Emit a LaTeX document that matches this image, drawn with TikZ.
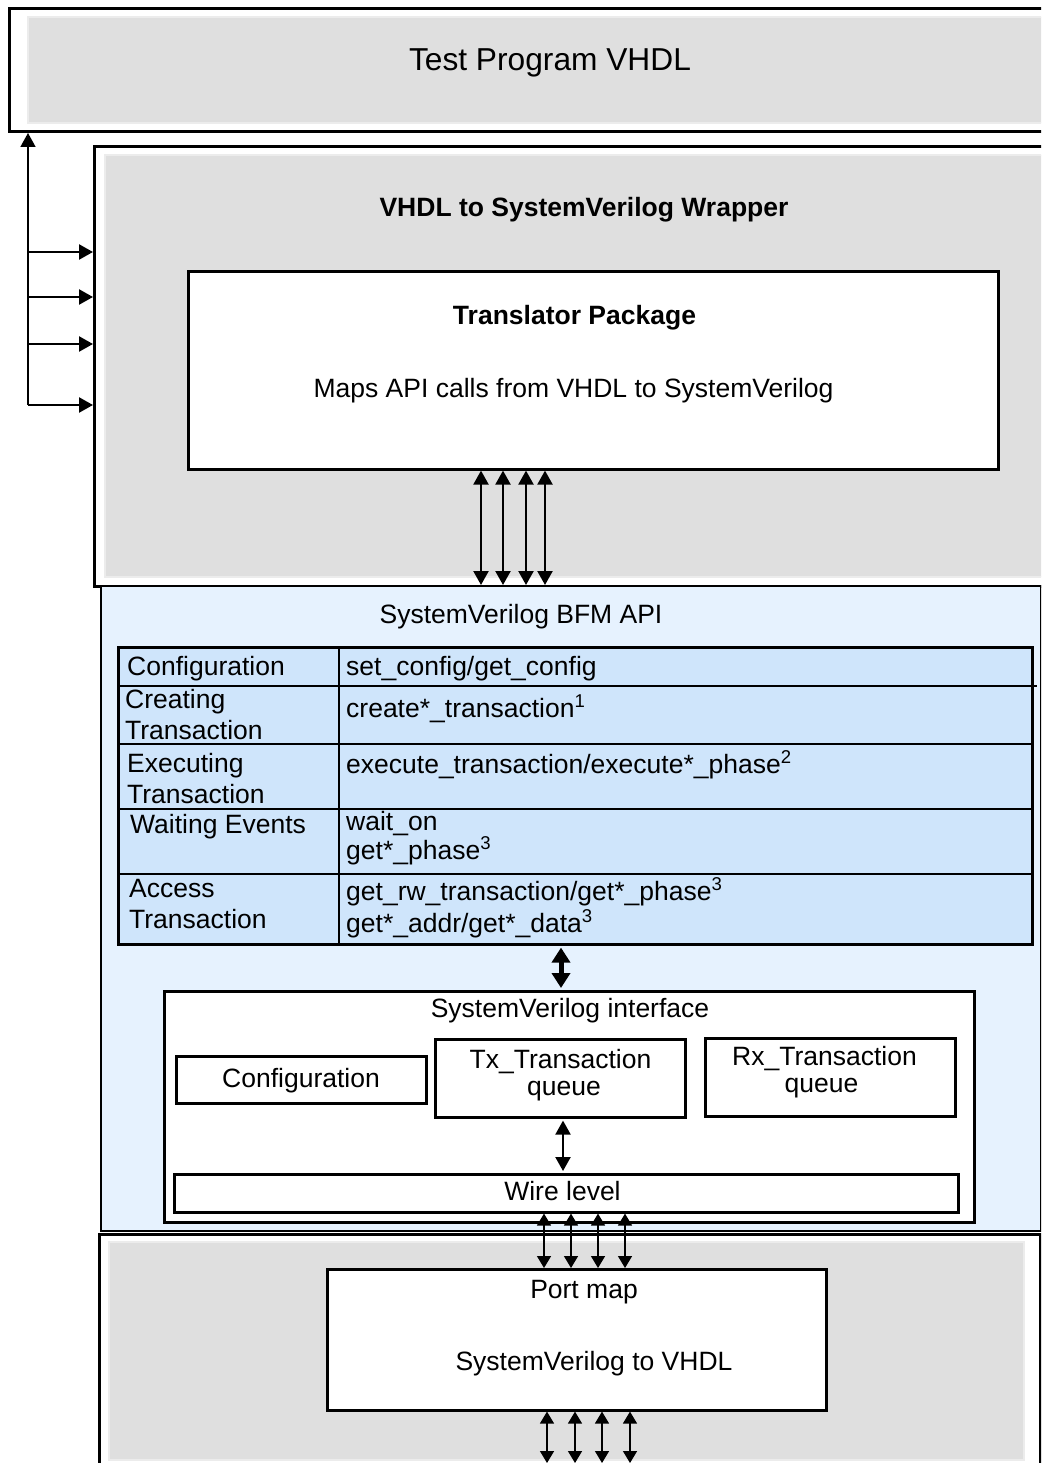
\documentclass[tikz,border=0pt]{standalone}
\usepackage{fontspec}
\setmainfont{Liberation Sans}
\usetikzlibrary{arrows.meta,positioning}
\definecolor{panelgray}{HTML}{DFDFDF}
\definecolor{panelrim}{HTML}{ECECEC}
\definecolor{apiblue}{HTML}{E6F2FE}
\definecolor{rowblue}{HTML}{CFE5FB}
\begin{document}
\begin{tikzpicture}[x=1pt,y=-1pt,>={Triangle[length=14pt,width=15pt]},line join=miter,
        frame/.style={draw,line width=3pt,inner sep=0pt,anchor=north west},
        box/.style={draw,fill=white,line width=2.6pt,inner sep=0pt,anchor=north west},
        panel/.style={fill=panelgray,draw=panelrim,line width=2pt},
        txt/.style={font=\fontsize{26.5}{31}\selectfont,inner sep=0pt,anchor=base},
        boldtxt/.style={txt,font=\fontsize{26.5}{31}\selectfont\bfseries},
        cell/.style={txt,anchor=base west},
        link/.style={<->,line width=2.2pt},
        thinlink/.style={<->,line width=1.5pt,>={Triangle[length=12pt,width=14pt]}}]
    \useasboundingbox (0,0) rectangle (1041,1463);
    \clip (0,0) rectangle (1041,1463);
    % test program
    \node[frame,minimum width=1060,minimum height=123] (prog) at (8,7) {};
    \path[panel] (28,17) rectangle (1060,123);
    \node[txt,font=\fontsize{31.7}{36}\selectfont] (progtxt) at (550,71) {Test Program VHDL};
    % wrapper + translator
    \node[frame,minimum width=970,minimum height=440] (wrap) at (93,145) {};
    \path[panel] (105,155) rectangle (1060,577);
    \node[boldtxt] (wraptxt) at (584,217) {VHDL to SystemVerilog Wrapper};
    \node[box,minimum width=810,minimum height=198] (trans) at (187,270) {};
    \node[boldtxt] (transtxt) at (574.5,324) {Translator Package};
    \node[txt] (mapstxt) at (573.5,397) {Maps API calls from VHDL to SystemVerilog};
    % BFM API
    \node[box,fill=apiblue,line width=2.2pt,minimum width=940,minimum height=645] (api) at (100,585) {};
    \node[txt] (apitxt) at (521,623) {SystemVerilog BFM API};
    \node[box,fill=rowblue,minimum width=914,minimum height=297] (tbl) at (117,646) {};
    \draw[line width=2.6pt] (117,686) -- (1037,686);
    \foreach \y in {744,809,874} \draw[line width=2.6pt] (117,\y) -- (1031,\y);
    \draw[line width=2.6pt] (339,646) -- (339,943);
    \node[cell] (c1) at (127,675) {Configuration};
    \node[cell] (c2a) at (125,708) {Creating};
    \node[cell] (c2b) at (125,739) {Transaction};
    \node[cell] (c3a) at (127,772) {Executing};
    \node[cell] (c3b) at (127,803) {Transaction};
    \node[cell] (c4) at (130,833) {Waiting Events};
    \node[cell] (c5a) at (129,897) {Access};
    \node[cell] (c5b) at (129,928) {Transaction};
    \node[cell] (f1) at (346,675) {set\_config/get\_config};
    \node[cell] (f2) at (346,717) {create*\_transaction\textsuperscript{1}};
    \node[cell] (f3) at (346,773) {execute\_transaction/execute*\_phase\textsuperscript{2}};
    \node[cell] (f4a) at (346,830) {wait\_on};
    \node[cell] (f4b) at (346,859) {get*\_phase\textsuperscript{3}};
    \node[cell] (f5a) at (346,900) {get\_rw\_transaction/get*\_phase\textsuperscript{3}};
    \node[cell] (f5b) at (346,932) {get*\_addr/get*\_data\textsuperscript{3}};
    % interface
    \node[box,minimum width=810,minimum height=231] (iface) at (163,990) {};
    \node[txt] (ifacetxt) at (570,1017) {SystemVerilog interface};
    \node[box,minimum width=250,minimum height=47] (cfg) at (175,1055) {};
    \node[txt] (cfgtxt) at (301,1087) {Configuration};
    \node[box,minimum width=250,minimum height=78] (tx) at (434,1038) {};
    \node[txt] (txtop) at (560.5,1068) {Tx\_Transaction};
    \node[txt] (txbot) at (564,1095) {queue};
    \node[box,minimum width=250,minimum height=78] (rx) at (704,1037) {};
    \node[txt] (rxtop) at (824.5,1065) {Rx\_Transaction};
    \node[txt] (rxbot) at (821.5,1092) {queue};
    \node[box,minimum width=784,minimum height=38] (wire) at (173,1173) {};
    \node[txt] (wiretxt) at (562.5,1200) {Wire level};
    % port map
    \node[frame,minimum width=941,minimum height=300] (port) at (98,1233) {};
    \path[panel] (109,1242) rectangle (1024,1460);
    \node[box,minimum width=499,minimum height=141] (pmap) at (326,1268) {};
    \node[txt] (pmaptxt) at (584,1298) {Port map};
    \node[txt] (svtxt) at (594,1370) {SystemVerilog to VHDL};
    \coordinate (floor) at (0,1463);
    % connectors
    \coordinate (bus) at (28,405);
    \draw[->,line width=1.6pt] (bus) -- (bus |- prog.south);
    \foreach \y in {252,297,344,405} \draw[->,line width=2.4pt] (28,\y) -- (28,\y -| wrap.west);
    \foreach \x in {481,503,526,545} \draw[link] (\x,0 |- trans.south) -- (\x,0 |- api.north);
    \draw[<->,line width=5pt,>={Triangle[length=15pt,width=18pt]},shorten <=2pt,shorten >=2pt] (561,0 |- tbl.south) -- (561,0 |- iface.north);
    \draw[link,shorten <=2pt,shorten >=2pt] (563,0 |- tx.south) -- (563,0 |- wire.north);
    \foreach \x in {544,571,598,625} \draw[thinlink] (\x,0 |- wire.south) -- (\x,0 |- pmap.north);
    \foreach \x in {547,575,602,630} \draw[thinlink] (\x,0 |- pmap.south) -- (\x,0 |- floor);
\end{tikzpicture}
\end{document}
